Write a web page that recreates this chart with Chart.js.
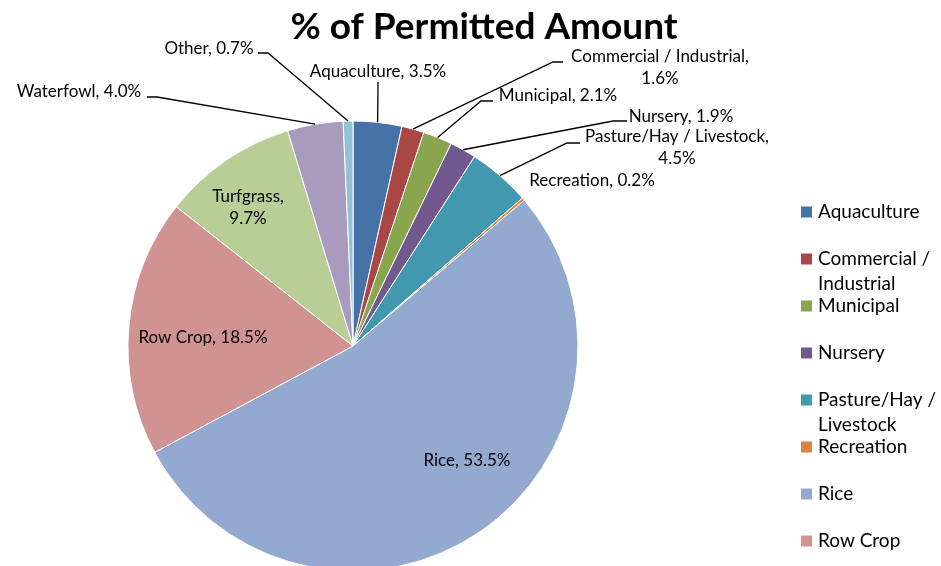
<!DOCTYPE html>
<html><head><meta charset="utf-8">
<script src="https://cdn.jsdelivr.net/npm/chart.js@4"></script>
<style>html,body{margin:0;padding:0;background:#fff}#wrap{width:941px;height:566px;position:relative}</style>
</head><body><div id="wrap"><canvas id="c"></canvas></div>
<script>
const chartTitle = '% of Permitted Amount';
const categories = ['Aquaculture','Commercial / Industrial','Municipal','Nursery','Pasture/Hay / Livestock','Recreation','Rice','Row Crop','Turfgrass','Waterfowl','Other'];
const percentValues = [3.5,1.6,2.1,1.9,4.5,0.2,53.5,18.5,9.7,4.0,0.7];
const sliceColors = ['#4572A7','#AA4643','#89A54E','#71588F','#4198AF','#DB843D','#93A9CF','#D19392','#B9CD96','#A99BBD','#92C3D5'];
const legendLabels = [['Aquaculture'],['Commercial /','Industrial'],['Municipal'],['Nursery'],['Pasture/Hay /','Livestock'],['Recreation'],['Rice'],['Row Crop']];
const dataLabelLines = [
  ['Aquaculture, 3.5%'],['Commercial / Industrial,','1.6%'],['Municipal, 2.1%'],['Nursery, 1.9%'],
  ['Pasture/Hay / Livestock,','4.5%'],['Recreation, 0.2%'],['Rice, 53.5%'],['Row Crop, 18.5%'],
  ['Turfgrass,','9.7%'],['Waterfowl, 4.0%'],['Other, 0.7%']
];
// label layout: text centre (first line), optional leader elbow and end
const labelLayout = [
  {x:378,y:72, leader:[[378,82]]},
  {x:660,y:57, leader:[[553,62],[563,62]]},
  {x:558,y:96, leader:[[481,101],[493,101]]},
  {x:681,y:117, leader:[[613,121],[627,121]]},
  {x:677,y:137, leader:[[567,143],[580,143]]},
  {x:592,y:181},
  {x:467,y:461},
  {x:203,y:338},
  {x:248,y:197},
  {x:79,y:92, leader:[[157,97],[147,97]]},
  {x:209,y:49, leader:[[268,53],[258,53]]}
];
const FONT = 'Lato, "Open Sans", sans-serif';

const labelPlugin = {
  id:'labels',
  afterDatasetsDraw(chart){
    const ctx = chart.ctx;
    const meta = chart.getDatasetMeta(0);
    ctx.save();
    ctx.strokeStyle = '#000'; ctx.lineWidth = 1.3;
    meta.data.forEach((arc,i)=>{
      const L = labelLayout[i]; if(!L.leader) return;
      const mid = (arc.startAngle+arc.endAngle)/2;
      const px = arc.x + Math.cos(mid)*arc.outerRadius;
      const py = arc.y + Math.sin(mid)*arc.outerRadius;
      ctx.beginPath(); ctx.moveTo(px,py);
      L.leader.forEach(p=>ctx.lineTo(p[0],p[1]));
      ctx.stroke();
    });
    ctx.fillStyle = '#000';
    ctx.font = '17px '+FONT; ctx.textAlign='center'; ctx.textBaseline='middle';
    dataLabelLines.forEach((lines,i)=>{
      const L = labelLayout[i];
      lines.forEach((t,k)=>ctx.fillText(t, L.x, L.y + k*22));
    });
    ctx.font = 'bold 37px '+FONT;
    ctx.fillText(chartTitle, 484, 27);
    ctx.textAlign='left';
    ctx.font = '19px '+FONT;
    legendLabels.forEach((lines,i)=>{
      const y = 212 + i*47;
      ctx.fillStyle = sliceColors[i];
      ctx.fillRect(801, y-5.5, 11, 11);
      ctx.fillStyle = '#000';
      lines.forEach((t,k)=>ctx.fillText(t, 818, y + k*25));
    });
    ctx.restore();
  }
};

new Chart(document.getElementById('c'), {
  type:'pie',
  data:{ labels:categories, datasets:[{ data:percentValues, backgroundColor:sliceColors, borderColor:'#ffffff', borderWidth:1, radius:225 }]},
  options:{
    responsive:true, maintainAspectRatio:false, animation:false,
    layout:{ padding:{ left:128, right:363, top:126, bottom:0 } },
    plugins:{ legend:{display:false}, tooltip:{enabled:false}, title:{display:false} }
  },
  plugins:[labelPlugin]
});
</script></body></html>
